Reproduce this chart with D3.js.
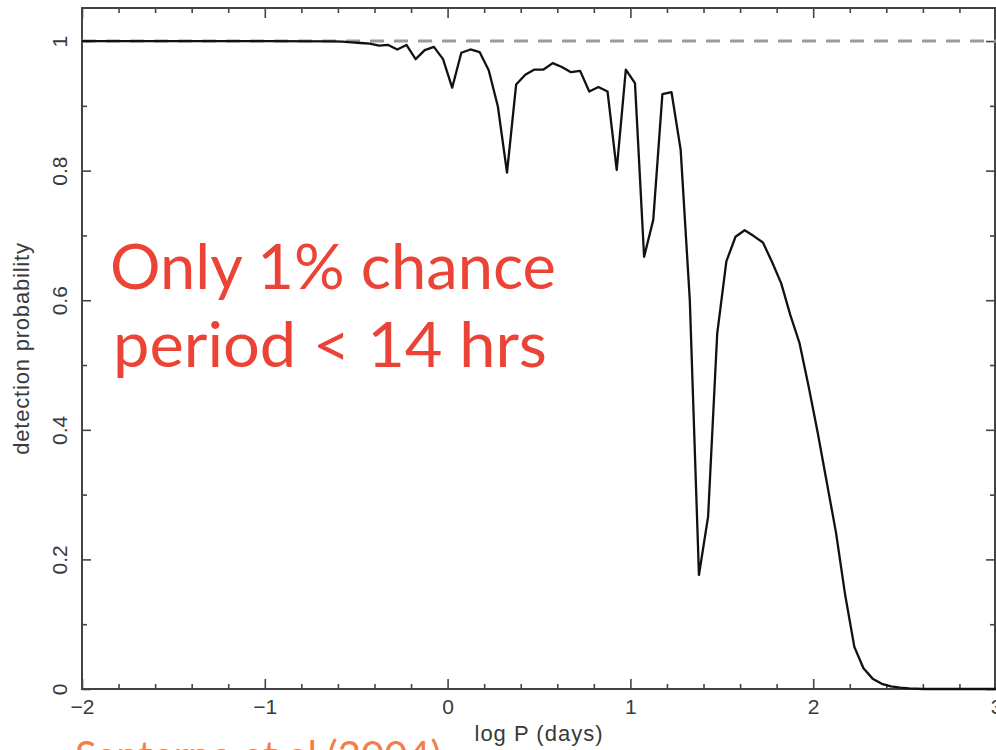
<!DOCTYPE html>
<html>
<head>
<meta charset="utf-8">
<script src="https://cdn.jsdelivr.net/npm/d3@7"></script>
<style>
  html, body { margin: 0; padding: 0; background: #fff; }
  svg { display: block; }
</style>
</head>
<body>
<script>
// detection probability vs log period
const logP = [-2.0, -1.0, -0.625, -0.575, -0.525, -0.475, -0.425, -0.375, -0.325, -0.275,
  -0.225, -0.175, -0.125, -0.075, -0.025, 0.025, 0.075, 0.125, 0.175, 0.225,
  0.275, 0.325, 0.375, 0.425, 0.475, 0.525, 0.575, 0.625, 0.675, 0.725,
  0.775, 0.825, 0.875, 0.925, 0.975, 1.025, 1.075, 1.125, 1.175, 1.225,
  1.275, 1.325, 1.375, 1.425, 1.475, 1.525, 1.575, 1.625, 1.675, 1.725,
  1.775, 1.825, 1.875, 1.925, 1.975, 2.025, 2.075, 2.125, 2.175, 2.225,
  2.275, 2.325, 2.375, 2.425, 2.475, 2.525, 2.6, 3.0];
const detProb = [1.0, 1.0, 0.9995, 0.999, 0.998, 0.997, 0.996, 0.993, 0.994, 0.987,
  0.994, 0.972, 0.986, 0.991, 0.972, 0.928, 0.982, 0.987, 0.983, 0.955,
  0.899, 0.797, 0.933, 0.948, 0.956, 0.956, 0.966, 0.960, 0.952, 0.954,
  0.922, 0.929, 0.922, 0.801, 0.956, 0.935, 0.667, 0.724, 0.918, 0.921,
  0.832, 0.600, 0.176, 0.266, 0.549, 0.660, 0.698, 0.708, 0.699, 0.689,
  0.659, 0.626, 0.577, 0.534, 0.467, 0.395, 0.318, 0.241, 0.145, 0.065,
  0.032, 0.016, 0.008, 0.004, 0.002, 0.001, 0.0, 0.0];

const xMajor = [-2, -1, 0, 1, 2, 3];
const xMinor = [-1.8, -1.6, -1.4, -1.2, -0.8, -0.6, -0.4, -0.2, 0.2, 0.4, 0.6, 0.8,
  1.2, 1.4, 1.6, 1.8, 2.2, 2.4, 2.6, 2.8];
const yMajor = [0, 0.2, 0.4, 0.6, 0.8, 1];
const yMinor = [0.1, 0.3, 0.5, 0.7, 0.9];

const noteLines = ['Only 1% chance', 'period < 14 hrs'];
const sourceNote = 'Santerne et al (2004)';

const W = 996, H = 750;
const frame = { left: 82, right: 995, top: 8, bottom: 689 };
const axisColor = '#444';
const tickFont = '"Liberation Sans", Arial, sans-serif';

const svg = d3.select('body').append('svg')
  .attr('width', W).attr('height', H);

svg.append('rect').attr('width', W).attr('height', H).attr('fill', '#fff');

const x = d3.scaleLinear().domain([-2, 3]).range([frame.left, 996]);
const y = d3.scaleLinear().domain([0, 1.051]).range([frame.bottom, frame.top]);

// ---- axes: ticks point inward on all four sides ----
const styleAxis = g => {
  g.select('.domain').remove();
  g.selectAll('line').attr('stroke', axisColor).attr('stroke-width', 1.6);
  g.selectAll('text').attr('fill', '#3a3a3a')
    .style('font', `21px ${tickFont}`);
};

svg.append('g')
  .attr('transform', `translate(0,${frame.bottom})`)
  .call(d3.axisBottom(x).tickValues(xMajor).tickSize(-10).tickPadding(10)
    .tickFormat(d => d3.format('')(d).replace('-', '\u2212')))
  .call(styleAxis);
svg.append('g')
  .attr('transform', `translate(0,${frame.bottom})`)
  .call(d3.axisBottom(x).tickValues(xMinor).tickSize(-5).tickFormat(''))
  .call(styleAxis);
svg.append('g')
  .attr('transform', `translate(0,${frame.top})`)
  .call(d3.axisTop(x).tickValues(xMajor).tickSize(-10).tickFormat(''))
  .call(styleAxis);
svg.append('g')
  .attr('transform', `translate(0,${frame.top})`)
  .call(d3.axisTop(x).tickValues(xMinor).tickSize(-5).tickFormat(''))
  .call(styleAxis);

svg.append('g')
  .attr('transform', `translate(${frame.left},0)`)
  .call(d3.axisLeft(y).tickValues(yMajor).tickSize(-9).tickFormat(d3.format('')))
  .call(styleAxis)
  .call(g => g.selectAll('text')
    .attr('x', 0).attr('dy', '0.35em')
    .attr('text-anchor', 'middle')
    .attr('transform', 'translate(-22,0) rotate(-90)'));
svg.append('g')
  .attr('transform', `translate(${frame.left},0)`)
  .call(d3.axisLeft(y).tickValues(yMinor).tickSize(-5).tickFormat(''))
  .call(styleAxis);
svg.append('g')
  .attr('transform', `translate(${frame.right},0)`)
  .call(d3.axisRight(y).tickValues(yMajor).tickSize(-9).tickFormat(''))
  .call(styleAxis);
svg.append('g')
  .attr('transform', `translate(${frame.right},0)`)
  .call(d3.axisRight(y).tickValues(yMinor).tickSize(-5).tickFormat(''))
  .call(styleAxis);

// frame
svg.append('rect')
  .attr('x', frame.left).attr('y', frame.top)
  .attr('width', frame.right - frame.left)
  .attr('height', frame.bottom - frame.top)
  .attr('fill', 'none')
  .attr('stroke', axisColor)
  .attr('stroke-width', 2);

// axis titles
svg.append('text')
  .attr('x', (frame.left + 996) / 2).attr('y', 741)
  .attr('text-anchor', 'middle')
  .attr('fill', '#3a3a3a')
  .style('font', `22px ${tickFont}`)
  .style('letter-spacing', '1px')
  .text('log P (days)');
svg.append('text')
  .attr('transform', `translate(29,${(frame.top + frame.bottom) / 2}) rotate(-90)`)
  .attr('text-anchor', 'middle')
  .attr('fill', '#3a3a3a')
  .style('font', `22px ${tickFont}`)
  .style('letter-spacing', '0.8px')
  .text('detection probability');

// reference level at 1
svg.append('line')
  .attr('x1', x(-2)).attr('x2', x(3))
  .attr('y1', y(1)).attr('y2', y(1))
  .attr('stroke', '#9a9a9a')
  .attr('stroke-width', 3)
  .attr('stroke-dasharray', '14,10');

// the curve
const pts = logP.map((d, i) => [d, detProb[i]]);
svg.append('path')
  .datum(pts)
  .attr('fill', 'none')
  .attr('stroke', '#111')
  .attr('stroke-width', 2.3)
  .attr('stroke-linejoin', 'round')
  .attr('d', d3.line().x(d => x(d[0])).y(d => y(d[1])));

// annotation
const note = svg.append('text')
  .attr('fill', '#eb4336')
  .style('font', '61px Lato, "Open Sans", sans-serif');
note.append('tspan').attr('x', 110).attr('y', 289)
  .attr('textLength', 446).attr('lengthAdjust', 'spacingAndGlyphs')
  .text(noteLines[0]);
note.append('tspan').attr('x', 113).attr('y', 367)
  .attr('textLength', 434).attr('lengthAdjust', 'spacingAndGlyphs')
  .text(noteLines[1]);

// source line, cut by the bottom edge as in the slide
svg.append('text')
  .attr('x', 75).attr('y', 770)
  .attr('fill', '#f27f4b')
  .style('font', '40px Lato, "Open Sans", sans-serif')
  .text(sourceNote);
</script>
</body>
</html>
